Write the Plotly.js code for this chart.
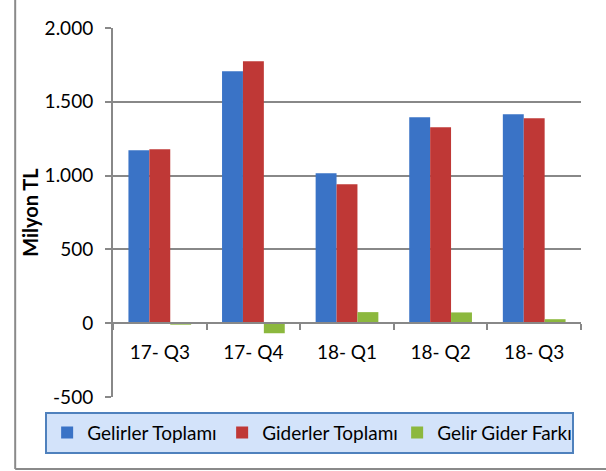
<!DOCTYPE html>
<html>
<head>
<meta charset="utf-8">
<script src="https://cdn.plot.ly/plotly-3.0.1.min.js"></script>
<style>
  html, body { margin: 0; padding: 0; background: #ffffff; }
  #chart { width: 606px; height: 471px; }
</style>
</head>
<body>
<div id="chart"></div>
<script>
// Quarters on the x axis
const quarters = ["17- Q3", "17- Q4", "18- Q1", "18- Q2", "18- Q3"];

// Values in million TL
const gelirler = [1172, 1707, 1016, 1396, 1416];
const giderler = [1179, 1775, 942, 1328, 1389];
const fark = [-10, -68, 75, 73, 27];

const seriesNames = ["Gelirler Toplamı", "Giderler Toplamı", "Gelir Gider Farkı"];
const seriesColors = ["#3a73c6", "#bf3836", "#8cb83e"];

// y ticks, labels with dot as thousands separator and a plain hyphen
const yTicks = [-500, 0, 500, 1000, 1500, 2000];
const yTickText = ["-500", "0", "500", "1.000", "1.500", "2.000"];

const fontFamily = "Lato, 'Noto Sans', sans-serif";
const gridColor = "#888888";

const traces = [gelirler, giderler, fark].map((vals, i) => ({
  type: "bar",
  name: seriesNames[i],
  x: quarters,
  y: vals,
  marker: { color: seriesColors[i], line: { width: 0 } },
  hoverinfo: "skip"
}));

const layout = {
  width: 606,
  height: 471,
  margin: { l: 113, r: 25, t: 28, b: 74, autoexpand: false },
  paper_bgcolor: "#ffffff",
  plot_bgcolor: "#ffffff",
  font: { family: fontFamily, size: 19, color: "#000000" },
  barmode: "group",
  bargap: 0.33,
  bargroupgap: 0,
  xaxis: {
    type: "category",
    anchor: "free",
    position: 0.2, // crosses at y = 0
    showline: true,
    linecolor: gridColor,
    linewidth: 2,
    showgrid: false,
    ticks: "outside",
    tickson: "boundaries",
    ticklen: 6,
    tickwidth: 2,
    tickcolor: gridColor,
    ticklabelstandoff: 12,
    tickfont: { family: fontFamily, size: 19 }
  },
  yaxis: {
    range: [-500, 2000],
    tickvals: yTicks,
    ticktext: yTickText,
    showline: true,
    linecolor: gridColor,
    linewidth: 2,
    showgrid: true,
    gridcolor: gridColor,
    gridwidth: 2,
    zeroline: false,
    ticks: "outside",
    ticklen: 6,
    tickwidth: 2,
    tickcolor: gridColor,
    ticklabelstandoff: 8,
    tickfont: { family: fontFamily, size: 19 },
    title: {
      text: "Milyon TL",
      font: { family: fontFamily, size: 20, weight: "bold" },
      standoff: 1
    }
  },
  showlegend: true,
  legend: {
    orientation: "h",
    x: -0.145,
    xanchor: "left",
    y: -0.04,
    yanchor: "top",
    bgcolor: "#d3e3fa",
    bordercolor: "#4f81bd",
    borderwidth: 2,
    font: { family: fontFamily, size: 19 },
    entrywidth: 130,
    entrywidthmode: "pixels",
    itemwidth: 30,
    traceorder: "normal"
  },
  shapes: [
    // outer chart frame (left and bottom)
    { type: "line", xref: "paper", yref: "paper", x0: -0.209, x1: -0.209, y0: 1.08, y1: -0.195,
      line: { color: "#8a8a8a", width: 2 } },
    { type: "line", xref: "paper", yref: "paper", x0: -0.209, x1: 1.06, y0: -0.195, y1: -0.195,
      line: { color: "#8a8a8a", width: 2 } }
  ]
};

Plotly.newPlot("chart", traces, layout, { displayModeBar: false, staticPlot: true });
</script>
</body>
</html>
